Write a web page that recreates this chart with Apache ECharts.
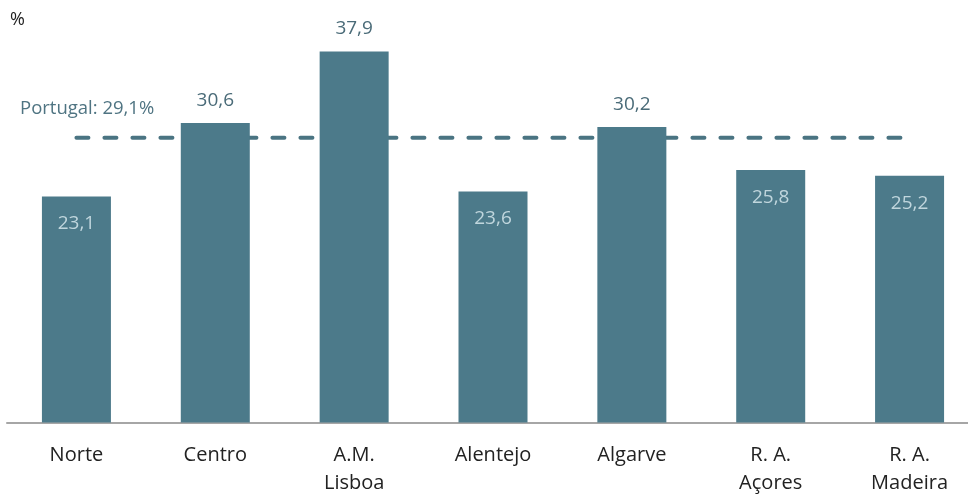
<!DOCTYPE html>
<html><head><meta charset="utf-8">
<script src="https://cdn.jsdelivr.net/npm/echarts@6/dist/echarts.min.js"></script>
<style>html,body{margin:0;padding:0;background:#fff}#c{width:968px;height:495px}</style>
</head><body><div id="c"></div>
<script>
var categories = ['Norte', 'Centro', 'A.M.\nLisboa', 'Alentejo', 'Algarve', 'R. A.\nAçores', 'R. A.\nMadeira'];
var values = [23.1, 30.6, 37.9, 23.6, 30.2, 25.8, 25.2];
var portugalValue = 29.1;
var portugalLabel = 'Portugal: 29,1%';
var unitLabel = '%';

var chart = echarts.init(document.getElementById('c'));
var FONT = '"Open Sans", "Noto Sans", sans-serif';
var barData = values.map(function (v) {
  var above = v > portugalValue;
  return {
    value: v,
    label: above
      ? { position: 'top', distance: 13, color: '#4a6b78' }
      : { position: 'insideTop', distance: 18, color: '#c0d6dd' }
  };
});
chart.setOption({
  animation: false,
  grid: { left: 7, width: 972, top: 31, height: 391.5, containLabel: false, outerBoundsMode: 'none' },
  xAxis: {
    type: 'category', data: categories,
    axisLine: { lineStyle: { color: '#a6a6a6', width: 2 } },
    axisTick: { show: false },
    axisLabel: { color: '#222', fontSize: 20, fontFamily: FONT, lineHeight: 28, margin: 19, interval: 0 }
  },
  yAxis: { type: 'value', min: 0, max: 40, show: false, splitLine: { show: false } },
  graphic: [
    { type: 'text', left: 10, top: 11, style: { text: unitLabel, fontSize: 18, fontFamily: FONT, fill: '#222' } },
    { type: 'text', left: 20, top: 99, style: { text: portugalLabel, fontSize: 18.5, fontFamily: FONT, fill: '#4f7482' } }
  ],
  series: [
    {
      type: 'line', z: 1,
      data: categories.map(function () { return portugalValue; }),
      symbol: 'none',
      lineStyle: { color: '#4a7482', width: 4, type: [12, 16], cap: 'round' },
      silent: true
    },
    {
      type: 'bar', z: 3, barWidth: 69,
      data: barData,
      itemStyle: { color: '#4c7a8a' },
      label: {
        show: true, fontSize: 19, fontFamily: FONT,
        formatter: function (p) { return String(p.value).replace('.', ','); }
      }
    }
  ]
});
</script></body></html>
